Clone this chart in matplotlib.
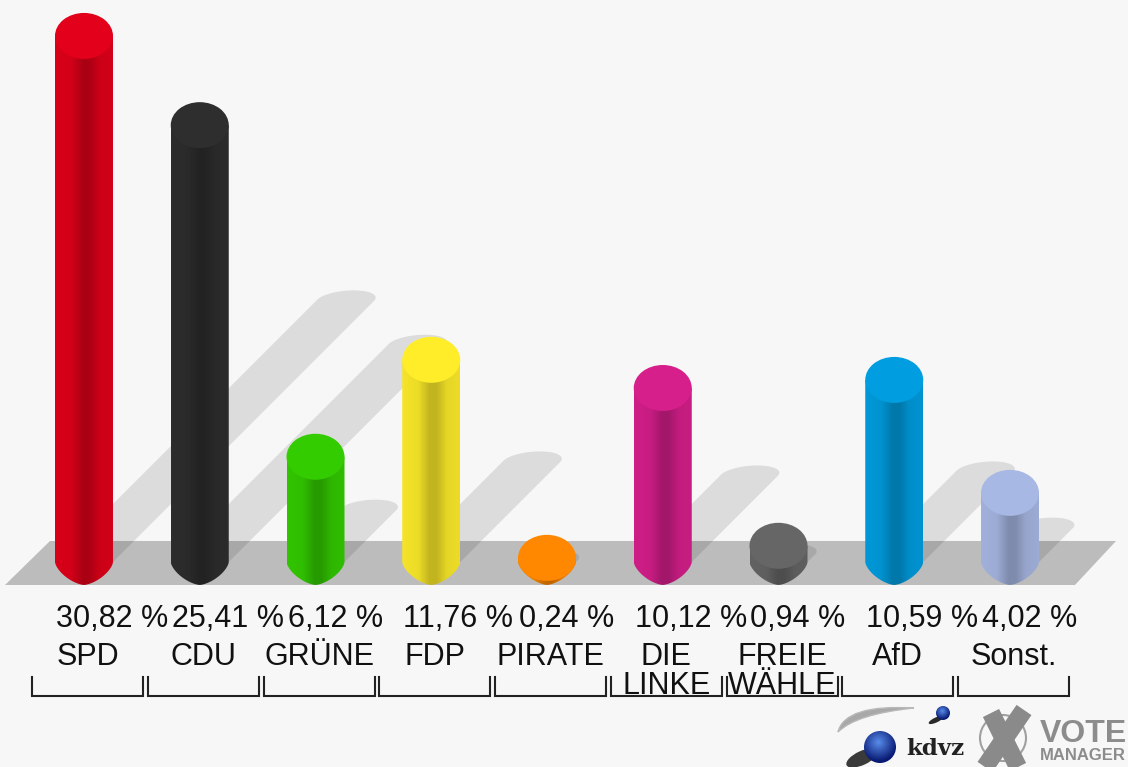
#!/usr/bin/env python3

import numpy as np
import matplotlib
matplotlib.use("Agg")
import matplotlib.pyplot as plt
from matplotlib.patches import Circle, Ellipse, PathPatch, Polygon
from matplotlib.path import Path

parties = ["SPD", "CDU", "GRÜNE", "FDP", "PIRATE", "DIE\nLINKE", "FREIE\nWÄHLE", "AfD", "Sonst."]
shares = [30.82, 25.41, 6.12, 11.76, 0.24, 10.12, 0.94, 10.59, 4.02]
colors = ["#e2001a", "#2e2e2e", "#33cc00", "#ffed2a", "#ff8800", "#d71f8c", "#666666", "#009ee0", "#a8b8e4"]

BG = "#f7f7f7"
W, H = 1128, 767
# pixels per category and per percent point
PX_X = 115.75
PX_Y = 17.19
X0 = 84
Y0 = 539.1
MAX_DRAWN = 30.6  # the SPD bar is cut a little short of its true height
HALF = 29 / PX_X
CAP = 23 / PX_Y
BASE = -1.33

plt.rcParams["font.family"] = ["Liberation Sans", "DejaVu Sans"]

fig = plt.figure(figsize=(W / 100, H / 100), dpi=100, facecolor=BG)

# pixel layer for floor, brackets and logo
px = fig.add_axes([0, 0, 1, 1], zorder=0)
px.set_xlim(0, W)
px.set_ylim(H, 0)
px.set_autoscale_on(False)
px.axis("off")

# chart layer in category / percent units
ax = fig.add_axes([0, 0, 1, 1], zorder=1)
ax.set_xlim(-X0 / PX_X, (W - X0) / PX_X)
ax.set_ylim((Y0 - H) / PX_Y, Y0 / PX_Y)
ax.set_autoscale_on(False)
ax.axis("off")
ax.patch.set_alpha(0)

px.add_patch(Polygon([(5, 585), (50, 541), (1116, 541), (1075, 585)], fc="#bcbcbc", ec="none"))


def shadow(i, v):
    d = v * 8.55
    t = np.linspace(np.pi, 0, 40)
    sx = i + (d + 29 * np.cos(t) + 8 * np.sin(t)) / PX_X
    sy = BASE + (d + 10 * np.sin(t)) / PX_Y
    pts = [(i - HALF, BASE)] + list(zip(sx, sy)) + [(i + HALF, BASE)]
    ax.add_patch(Polygon(pts, fc="black", ec="none", alpha=0.105, zorder=1))


def cylinder(i, v, col):
    rgb = np.array(matplotlib.colors.to_rgb(col))
    cap_y = BASE + v
    t = np.linspace(np.pi, 2 * np.pi, 60)
    # bottom end comes to a slight point, flatter than a true ellipse
    bx = i + HALF * np.sign(np.cos(t)) * np.abs(np.cos(t)) ** 1.3
    by = BASE - CAP * np.abs(np.sin(t)) ** 1.3
    pts = [(i - HALF, cap_y)] + list(zip(bx, by)) + [(i + HALF, cap_y)]
    body = Polygon(pts, fc="none", ec="none", zorder=2)
    ax.add_patch(body)
    shade = np.interp(np.linspace(-1, 1, 60), [-1, -0.45, -0.05, 0.2, 0.55, 1],
                      [0.96, 0.93, 0.76, 0.76, 0.9, 0.93])
    grad = (shade[:, None] * rgb)[None, :, :]
    im = ax.imshow(grad, extent=[i - HALF, i + HALF, BASE - CAP, cap_y], aspect="auto",
                   interpolation="bilinear", zorder=2)
    im.set_clip_path(body)
    ax.add_patch(Ellipse((i, cap_y), 2 * HALF, 2 * CAP, fc=col, ec="none", zorder=3))


def sphere(cx, cy, r):
    yy, xx = np.mgrid[-1:1:60j, -1:1:60j]
    dist = np.clip(np.hypot(xx + 0.1, yy + 0.3) / 1.2, 0, 1)
    img = np.zeros((60, 60, 3))
    for k, (a, b) in enumerate(zip((0.35, 0.55, 0.92), (0.03, 0.1, 0.45))):
        img[:, :, k] = a + (b - a) * dist
    clip = Circle((cx, cy), r, fc="none", ec="none")
    px.add_patch(clip)
    im = px.imshow(img, extent=[cx - r, cx + r, cy + r, cy - r], aspect="auto", zorder=3)
    im.set_clip_path(clip)


drawn = np.minimum(shares, MAX_DRAWN)
for i, v in enumerate(drawn):
    shadow(i, v)
for i, v in enumerate(drawn):
    cylinder(i, v, colors[i])

for i, (name, share) in enumerate(zip(parties, shares)):
    label = f"{share:.2f}".replace(".", ",") + " %"
    px.text(X0 - 28 + i * PX_X, 627, label, fontsize=22, color="#111111", ha="left", va="baseline")
    centre = 87.5 + i * PX_X
    for k, line in enumerate(name.split("\n")):
        px.text(centre, 665 + 29 * k, line, fontsize=22, color="#111111", ha="center", va="baseline")
    left = 32 + i * PX_X
    px.plot([left, left, left + 111, left + 111], [677, 696, 696, 677], color="#222222", lw=1.5,
            solid_joinstyle="miter")

# logo
swoosh = Path([(914, 708), (845, 704), (838, 732), (856, 714), (914, 708)],
              [Path.MOVETO, Path.CURVE3, Path.CURVE3, Path.CURVE3, Path.CURVE3])
px.add_patch(PathPatch(swoosh, fc="#a8a8a8", ec="#b8b8b8", lw=1))
px.add_patch(Ellipse((862, 758), 34, 14, angle=-25, fc="#3a3a3a", ec="none", zorder=2))
px.add_patch(Ellipse((936, 720), 16, 5, angle=-25, fc="#2a2a2a", ec="none", zorder=2))
sphere(880, 747, 16)
sphere(943, 713, 7)
px.text(906, 755, "kdvz", family="DejaVu Serif", weight="bold", fontsize=16.5, color="#222222", va="baseline")

px.add_patch(Circle((1003, 738), 23, fc="none", ec="#a0a0a0", lw=1.5))
px.plot([991, 1018], [713, 767], color="#8a8a8a", lw=13, solid_capstyle="butt")
px.plot([1024, 985], [710, 767], color="#8a8a8a", lw=13, solid_capstyle="butt")
px.text(1040, 742, "VOTE", weight="bold", fontsize=23, color="#8c8c8c", va="baseline")
px.text(1040, 760, "MANAGER", weight="bold", fontsize=12, color="#8c8c8c", va="baseline")

fig.savefig("out.png", dpi=100, facecolor=BG)
